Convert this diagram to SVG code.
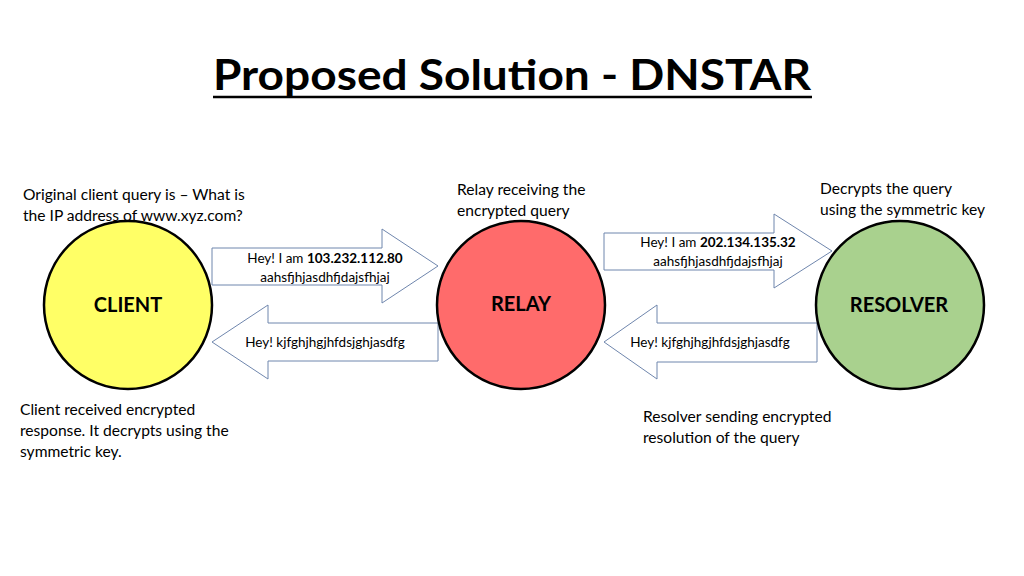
<svg xmlns="http://www.w3.org/2000/svg" width="1024" height="576" viewBox="0 0 1024 576">
<style>
text{font-family:Lato,"Open Sans","Liberation Sans",sans-serif;fill:#000}
.t{font-size:15.6px}
.a{font-size:13.5px;text-anchor:middle}
.n{font-size:20px;font-weight:bold;text-anchor:middle}
.c{stroke:#000;stroke-width:2.5}
.arr{fill:#fff;stroke:#6f86ad;stroke-width:1}
</style>
<rect width="1024" height="576" fill="#fff"/>
<g id="title">
<text x="512" y="90" font-size="42" font-weight="bold" text-anchor="middle" textLength="598" lengthAdjust="spacingAndGlyphs">Proposed Solution - DNSTAR</text>
<line x1="213" y1="97" x2="812" y2="97" stroke="#000" stroke-width="2.5"/>
</g>
<g id="connectors">
<path class="arr" d="M212,248 H382 V229 L438,266 L382,303 V285 H212 Z"/>
<path class="arr" d="M604,233 H774 V214 L832,251 L774,288 V270 H604 Z"/>
<path class="arr" d="M438,323 H268 V305 L212,342 L268,379 V361 H438 Z"/>
<path class="arr" d="M817,323 H657 V305 L604,342 L657,379 V362 H817 Z"/>
<text class="a" x="325" y="263">Hey! I am <tspan font-weight="bold">103.232.112.80</tspan></text>
<text class="a" x="325" y="282">aahsfjhjasdhfjdajsfhjaj</text>
<text class="a" x="718" y="247">Hey! I am <tspan font-weight="bold">202.134.135.32</tspan></text>
<text class="a" x="718" y="266">aahsfjhjasdhfjdajsfhjaj</text>
<text class="a" x="325" y="347">Hey! kjfghjhgjhfdsjghjasdfg</text>
<text class="a" x="710" y="347">Hey! kjfghjhgjhfdsjghjasdfg</text>
</g>
<g id="client">
<circle class="c" cx="128" cy="305" r="84" fill="#ffff66"/>
<text class="n" x="128" y="312">CLIENT</text>
</g>
<g id="relay">
<circle class="c" cx="521" cy="305" r="84" fill="#ff6b6b"/>
<text class="n" x="521" y="311">RELAY</text>
</g>
<g id="resolver">
<circle class="c" cx="900" cy="305" r="84" fill="#a9d18e"/>
<text class="n" x="899" y="312">RESOLVER</text>
</g>
<g id="notes">
<text class="t" x="23" y="200">Original client query is – What is</text>
<text class="t" x="23" y="221">the IP address of www.xyz.com?</text>
<text class="t" x="457" y="195">Relay receiving the</text>
<text class="t" x="457" y="216">encrypted query</text>
<text class="t" x="820" y="194">Decrypts the query</text>
<text class="t" x="820" y="215">using the symmetric key</text>
<text class="t" x="20" y="415">Client received encrypted</text>
<text class="t" x="20" y="436">response. It decrypts using the</text>
<text class="t" x="20" y="457">symmetric key.</text>
<text class="t" x="643" y="422">Resolver sending encrypted</text>
<text class="t" x="643" y="443">resolution of the query</text>
</g>
</svg>
